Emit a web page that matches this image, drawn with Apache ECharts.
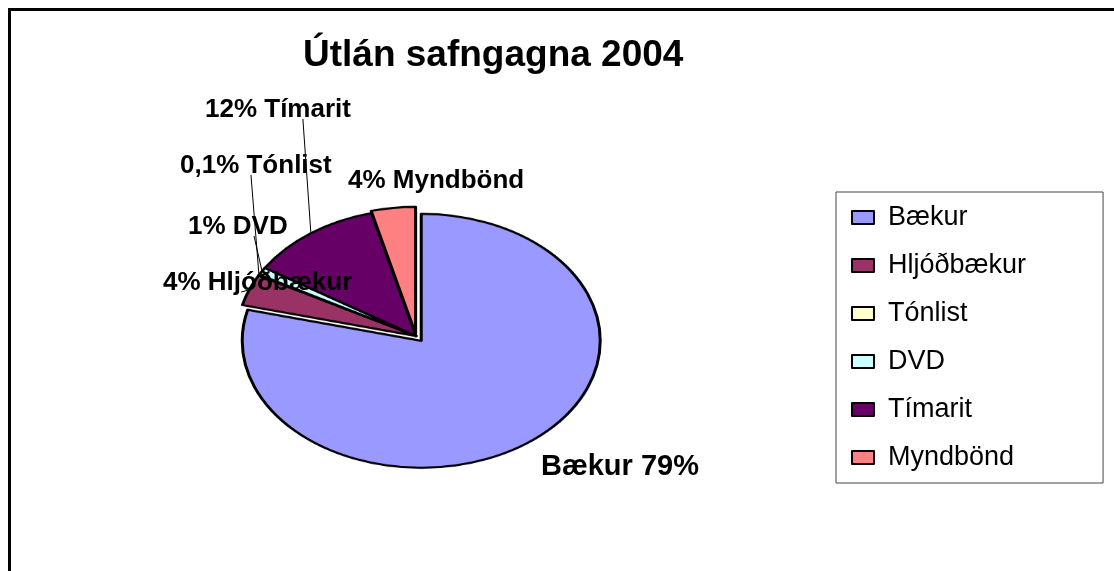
<!DOCTYPE html>
<html>
<head>
    <meta charset="utf-8">
    <title>Útlán safngagna 2004</title>
    <script src="https://cdn.jsdelivr.net/npm/echarts@6/dist/echarts.min.js"></script>
    <style>
        body { margin: 0; background: #fff; }
        #frame { position: absolute; left: 8px; top: 8px; width: 1200px; height: 700px;
                 border-top: 3px solid #000; border-left: 3px solid #000; }
        #pie { position: absolute; left: 0; top: 0; width: 1114px; height: 571px;
               transform: scaleY(0.7095); transform-origin: 0 336px; }
        #main { position: absolute; left: 0; top: 0; width: 1114px; height: 571px; }
    </style>
</head>
<body>
    <div id="frame"></div>
    <!-- kakan sjálf, teygð í sporbaug -->
    <div id="pie"></div>
    <!-- titill, skýringar og merkingar -->
    <div id="main"></div>
    <script type="text/javascript">
        // gögn
        var names = ['Bækur', 'Hljóðbækur', 'Tónlist', 'DVD', 'Tímarit', 'Myndbönd'];
        var values = [79, 4, 0.1, 1, 12, 4];
        var labelTexts = ['Bækur 79%', '4% Hljóðbækur', '0,1% Tónlist', '1% DVD', '12% Tímarit', '4% Myndbönd'];
        var colors = ['#9999FF', '#993366', '#FFFFCC', '#CCFFFF', '#660066', '#FF8080'];

        // útlit
        var CX = 416, CY = 336, RX = 179, RY = 127;
        var labelAt = [[541, 467], [163, 283], [180, 166], [188, 227], [205, 110], [348, 181]];
        var labelSize = [29, 26, 26, 26, 26, 26];
        var leader = [false, true, true, true, true, false];
        var font = "'Liberation Sans', Arial, sans-serif";

        var total = values.reduce(function (a, b) { return a + b; }, 0);

        function anchor(i) {
            var before = 0;
            for (var k = 0; k < i; k++) before += values[k];
            var a = (before + values[i] / 2) / total * Math.PI * 2;
            return [CX + RX * Math.sin(a), CY - RY * Math.cos(a)];
        }

        // ein röð fyrir hvern hóp sneiða, svo hver hópur fái sína útdrætti
        function pieLayer(visible, offset, pulled) {
            return {
                type: 'pie',
                center: [CX, CY],
                radius: [0, RX],
                startAngle: 90,
                clockwise: true,
                selectedMode: 'multiple',
                selectedOffset: offset,
                label: { show: false },
                labelLine: { show: false },
                emphasis: { disabled: true },
                data: names.map(function (n, i) {
                    var on = visible.indexOf(n) >= 0;
                    var st = on ? { color: colors[i], borderColor: '#000', borderWidth: 3 }
                                : { color: 'rgba(0,0,0,0)', borderWidth: 0 };
                    return {
                        name: n, value: values[i],
                        selected: pulled.indexOf(n) >= 0,
                        itemStyle: st,
                        select: { itemStyle: st }
                    };
                })
            };
        }

        var pieChart = echarts.init(document.getElementById('pie'));
        pieChart.setOption({
            animation: false,
            series: [
                pieLayer(['Hljóðbækur', 'Tónlist', 'DVD', 'Tímarit', 'Myndbönd'], 3, ['Myndbönd']),
                pieLayer(['Bækur'], 8.5, ['Bækur'])
            ]
        });

        var myChart = echarts.init(document.getElementById('main'));
        myChart.setOption({
            animation: false,
            title: {
                text: 'Útlán safngagna 2004',
                left: 298,
                top: 32,
                textStyle: { fontFamily: font, fontSize: 37, fontWeight: 'bold', color: '#000' }
            },
            legend: {
                orient: 'vertical',
                left: 836,
                top: 192,
                padding: [12, 77, 12, 15],
                itemGap: 21,
                itemWidth: 22,
                itemHeight: 13,
                icon: 'rect',
                borderColor: '#444',
                borderWidth: 1,
                selectedMode: false,
                textStyle: { fontFamily: font, fontSize: 27, color: '#000', padding: [0, 0, 0, 9] },
                data: names.map(function (n, i) {
                    return { name: n, itemStyle: { color: colors[i], borderColor: '#000', borderWidth: 2 } };
                })
            },
            series: [{
                type: 'pie',
                center: [CX, CY],
                radius: [0, RX],
                startAngle: 90,
                silent: true,
                avoidLabelOverlap: false,
                itemStyle: { color: 'rgba(0,0,0,0)', borderWidth: 0 },
                label: {
                    show: true,
                    position: 'outside',
                    color: '#000',
                    fontFamily: font,
                    fontSize: 26,
                    fontWeight: 'bold',
                    formatter: function (p) { return labelTexts[p.dataIndex]; }
                },
                labelLine: { show: true, smooth: false, lineStyle: { color: '#000', width: 1 } },
                labelLayout: function (p) {
                    var i = p.dataIndex;
                    var x = labelAt[i][0], y = labelAt[i][1];
                    var w = p.labelRect.width, h = p.labelRect.height;
                    var a = anchor(i);
                    var sx = Math.min(Math.max(a[0] - 8, x), x + w);
                    var sy = y + h / 2 - 4;
                    return {
                        x: x, y: y, align: 'left', verticalAlign: 'middle',
                        labelLinePoints: [[a[0], a[1]], [sx, sy], [sx, sy]]
                    };
                },
                data: names.map(function (n, i) {
                    return {
                        name: n, value: values[i],
                        label: { fontSize: labelSize[i] },
                        labelLine: { show: leader[i] }
                    };
                })
            }]
        });
    </script>
</body>
</html>
